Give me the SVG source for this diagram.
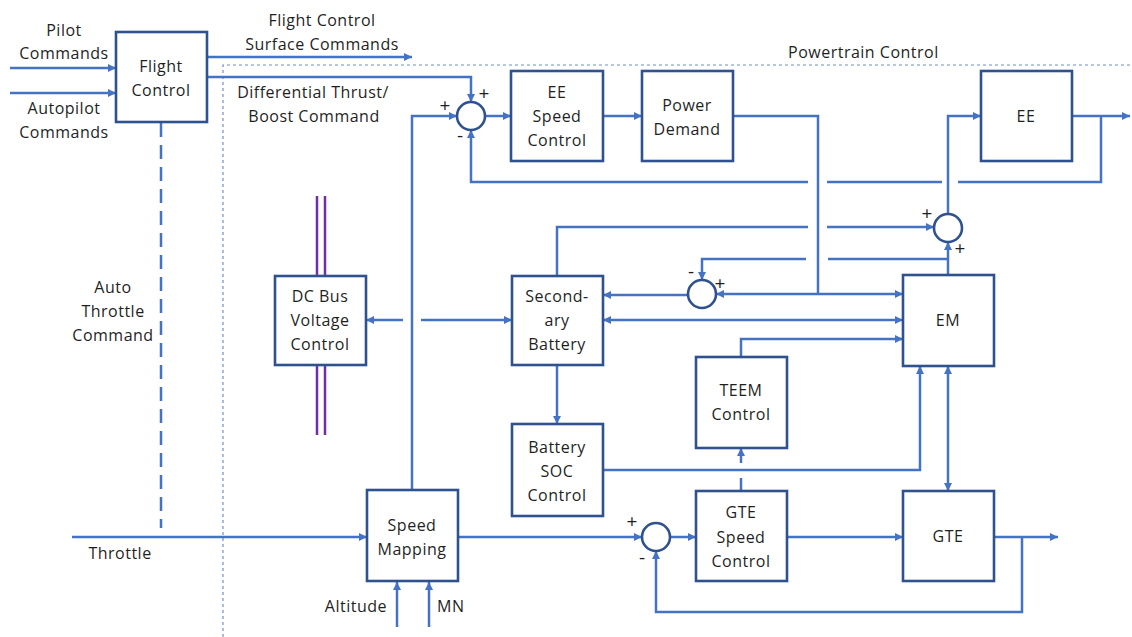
<svg xmlns="http://www.w3.org/2000/svg" width="1132" height="637" viewBox="0 0 1132 637">
<defs>
<marker id="ah" viewBox="0 0 10 10" refX="10" refY="5" markerWidth="9" markerHeight="8" markerUnits="userSpaceOnUse" orient="auto-start-reverse">
<path d="M0,0 L10,5 L0,10 z" fill="#4472c4"/>
</marker>
<style>
.box{fill:#fff;stroke:#2f528f;stroke-width:2.6}
.sum{fill:#fff;stroke:#2f528f;stroke-width:2.6}
.ln{fill:none;stroke:#4472c4;stroke-width:2.5}
.ar{marker-end:url(#ah)}
.ar2{marker-start:url(#ah);marker-end:url(#ah)}
.bound{fill:none;stroke:#6f8fce;stroke-width:1.2;stroke-dasharray:3 3}
.bus{fill:none;stroke:#7030a0;stroke-width:2.5}
text{font-family:"Open Sans","Liberation Sans",sans-serif;font-size:16px;letter-spacing:0.5px;fill:#1f1f1f}
.c{text-anchor:middle}
.s{font-size:19px;letter-spacing:0}
</style>
</defs>
<rect width="1132" height="637" fill="#fff"/>

<path class="bound" d="M223,637 V65 H1132"/>
<text x="788" y="58">Powertrain Control</text>

<g id="bus">
<path class="bus" d="M317,196 V276 M325,196 V276 M317,365 V435 M325,365 V435"/>
</g>

<g id="connectors">
<path class="ln ar" d="M10,68 H116"/>
<path class="ln ar" d="M10,93 H116"/>
<path class="ln ar" d="M207,57 H412"/>
<path class="ln ar" d="M207,77 H471 V102"/>
<path class="ln" d="M161,123 V528" stroke-dasharray="14 8"/>
<path class="ln ar" d="M72,537 H367"/>
<path class="ln ar" d="M412,490 V116 H457"/>
<path class="ln ar" d="M485,116 H511"/>
<path class="ln ar" d="M603,116 H642"/>
<path class="ln" d="M733,116 H818 V294"/>
<path class="ln ar" d="M818,294 H903"/>
<path class="ln ar" d="M818,294 H716"/>
<path class="ln ar" d="M688,295 H603"/>
<path class="ln ar" d="M1072,116 H1130"/>
<path class="ln" d="M1101,116 V182 H958"/>
<path class="ln" d="M942,182 H827"/>
<path class="ln ar" d="M808,182 H471 V130"/>
<path class="ln" d="M557,276 V227 H808"/>
<path class="ln ar" d="M827,227 H934"/>
<path class="ln ar" d="M948,275 V242"/>
<path class="ln" d="M948,259 H828"/>
<path class="ln ar" d="M806,259 H702 V280"/>
<path class="ln ar" d="M948,214 V116 H981"/>
<path class="ln ar2" d="M603,320 H903"/>
<path class="ln ar" d="M421,320 H512"/>
<path class="ln ar" d="M403,320 H366"/>
<path class="ln ar" d="M557,365 V424"/>
<path class="ln ar" d="M603,470 H920 V366"/>
<path class="ln ar" d="M741,357 V339 H903"/>
<path class="ln" d="M741,491 V478"/>
<path class="ln ar" d="M741,463 V448"/>
<path class="ln ar2" d="M948,366 V491"/>
<path class="ln ar" d="M458,537 H642"/>
<path class="ln ar" d="M670,537 H696"/>
<path class="ln ar" d="M787,537 H903"/>
<path class="ln ar" d="M994,537 H1058"/>
<path class="ln ar" d="M1022,537 V612 H656 V551"/>
<path class="ln ar" d="M397,627 V582"/>
<path class="ln ar" d="M429,627 V582"/>
</g>

<g id="labels">
<text class="c" x="64" y="36">Pilot</text>
<text class="c" x="64" y="59">Commands</text>
<text class="c" x="64" y="114">Autopilot</text>
<text class="c" x="64" y="138">Commands</text>
<text class="c" x="322" y="26">Flight Control</text>
<text class="c" x="322" y="50">Surface Commands</text>
<text class="c" x="313" y="98">Differential Thrust/</text>
<text class="c" x="314" y="122">Boost Command</text>
<text class="c" x="113" y="293">Auto</text>
<text class="c" x="113" y="317">Throttle</text>
<text class="c" x="113" y="341">Command</text>
<text class="c" x="120" y="559">Throttle</text>
<text x="387" y="612" text-anchor="end">Altitude</text>
<text x="437" y="612">MN</text>
</g>

<g id="flight-control">
<rect class="box" x="116" y="32" width="91" height="90"/>
<text class="c" x="161" y="72">Flight</text>
<text class="c" x="161" y="96">Control</text>
</g>
<g id="ee-speed-control">
<rect class="box" x="511" y="71" width="92" height="90"/>
<text class="c" x="557" y="98">EE</text>
<text class="c" x="557" y="122">Speed</text>
<text class="c" x="557" y="146">Control</text>
</g>
<g id="power-demand">
<rect class="box" x="642" y="71" width="91" height="90"/>
<text class="c" x="687" y="111">Power</text>
<text class="c" x="687" y="135">Demand</text>
</g>
<g id="ee">
<rect class="box" x="981" y="71" width="91" height="90"/>
<text class="c" x="1026" y="122">EE</text>
</g>
<g id="dc-bus">
<rect class="box" x="275" y="276" width="91" height="89"/>
<text class="c" x="320" y="302">DC Bus</text>
<text class="c" x="320" y="326">Voltage</text>
<text class="c" x="320" y="350">Control</text>
</g>
<g id="secondary-battery">
<rect class="box" x="512" y="276" width="91" height="89"/>
<text class="c" x="557" y="302">Second-</text>
<text class="c" x="557" y="326">ary</text>
<text class="c" x="557" y="350">Battery</text>
</g>
<g id="em">
<rect class="box" x="903" y="275" width="91" height="91"/>
<text class="c" x="948" y="326">EM</text>
</g>
<g id="teem-control">
<rect class="box" x="696" y="357" width="91" height="91"/>
<text class="c" x="741" y="396">TEEM</text>
<text class="c" x="741" y="420">Control</text>
</g>
<g id="battery-soc">
<rect class="box" x="512" y="424" width="91" height="92"/>
<text class="c" x="557" y="453">Battery</text>
<text class="c" x="557" y="477">SOC</text>
<text class="c" x="557" y="501">Control</text>
</g>
<g id="speed-mapping">
<rect class="box" x="367" y="490" width="91" height="91"/>
<text class="c" x="412" y="531">Speed</text>
<text class="c" x="412" y="555">Mapping</text>
</g>
<g id="gte-speed-control">
<rect class="box" x="696" y="491" width="91" height="90"/>
<text class="c" x="741" y="518">GTE</text>
<text class="c" x="741" y="543">Speed</text>
<text class="c" x="741" y="567">Control</text>
</g>
<g id="gte">
<rect class="box" x="903" y="491" width="91" height="90"/>
<text class="c" x="948" y="542">GTE</text>
</g>

<g id="sum1">
<circle class="sum" cx="471" cy="116" r="14"/>
<text class="c s" x="445" y="112">+</text>
<text class="c s" x="484" y="100">+</text>
<text class="c s" x="460" y="142">-</text>
</g>
<g id="sum2">
<circle class="sum" cx="948" cy="228" r="14"/>
<text class="c s" x="927" y="220">+</text>
<text class="c s" x="960" y="255">+</text>
</g>
<g id="sum3">
<circle class="sum" cx="702" cy="294" r="14"/>
<text class="c s" x="691" y="278">-</text>
<text class="c s" x="720" y="290">+</text>
</g>
<g id="sum4">
<circle class="sum" cx="656" cy="537" r="14"/>
<text class="c s" x="632" y="528">+</text>
<text class="c s" x="642" y="564">-</text>
</g>
</svg>
